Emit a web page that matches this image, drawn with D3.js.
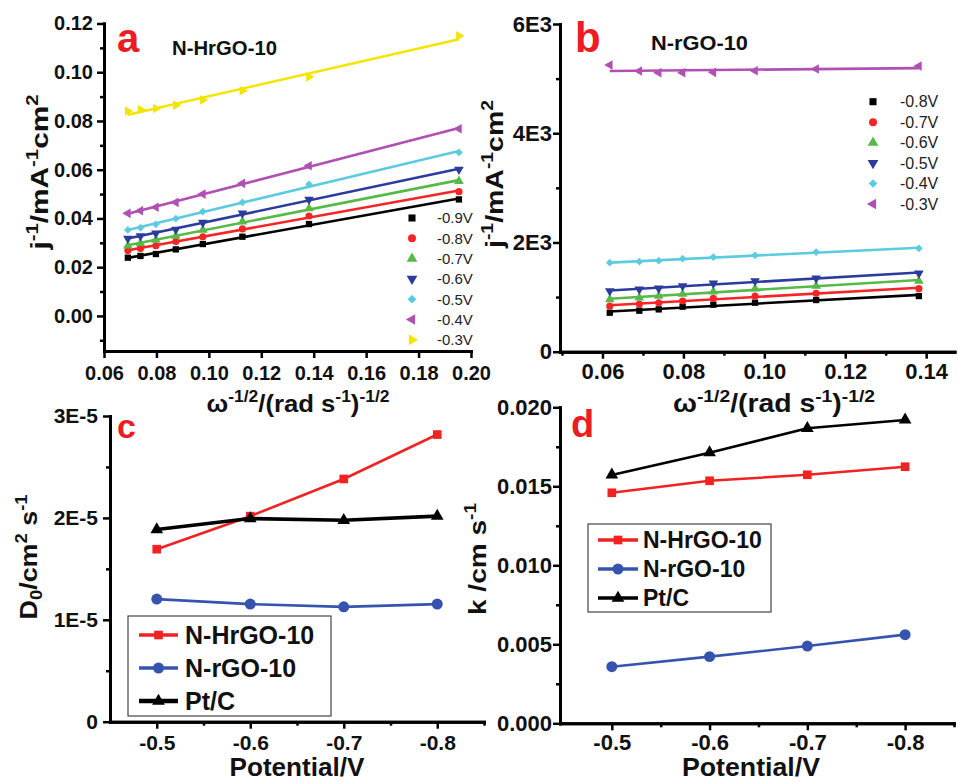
<!DOCTYPE html>
<html><head><meta charset="utf-8">
<script src="https://cdnjs.cloudflare.com/ajax/libs/d3/7.8.5/d3.min.js"></script>
<style>
body{margin:0;background:#fff}
svg{display:block}
text{font-family:"Liberation Sans",Arial,Helvetica,sans-serif}
</style>
</head><body>
<svg id="chart" width="958" height="782"></svg>
<script>
// ---------------- DATA ----------------
// Panel a (N-HrGO-10): omega^-1/2 values and j^-1 series
const aX = [0.0691, 0.0739, 0.0798, 0.0874, 0.0977, 0.1128, 0.1382, 0.1954];
const aLabels = ["-0.9V", "-0.8V", "-0.7V", "-0.6V", "-0.5V", "-0.4V", "-0.3V"];
const aM09 = [0.0239, 0.0246, 0.0254, 0.0273, 0.0295, 0.0325, 0.0377, 0.0478];
const aM08 = [0.0268, 0.0277, 0.0288, 0.0305, 0.0325, 0.0357, 0.0410, 0.0510];
const aM07 = [0.0288, 0.0298, 0.0312, 0.0328, 0.0353, 0.0387, 0.0441, 0.0553];
const aM06 = [0.0318, 0.0328, 0.0339, 0.0355, 0.0383, 0.0421, 0.0478, 0.0601];
const aM05 = [0.0353, 0.0362, 0.0376, 0.0399, 0.0428, 0.0466, 0.0540, 0.0671];
const aM04 = [0.0421, 0.0432, 0.0446, 0.0466, 0.0500, 0.0544, 0.0616, 0.0768];
const aM03 = [0.0841, 0.0847, 0.0851, 0.0865, 0.0886, 0.0924, 0.0981, 0.1149];
const aXTicks = [0.06, 0.08, 0.10, 0.12, 0.14, 0.16, 0.18, 0.20];
const aXTickLabels = ["0.06", "0.08", "0.10", "0.12", "0.14", "0.16", "0.18", "0.20"];
const aYTicks = [0.00, 0.02, 0.04, 0.06, 0.08, 0.10, 0.12];
const aYTickLabels = ["0.00", "0.02", "0.04", "0.06", "0.08", "0.10", "0.12"];
const aYMinor = [-0.01, 0.01, 0.03, 0.05, 0.07, 0.09, 0.11];

// Panel b (N-rGO-10)
const bX = [0.0618, 0.0691, 0.0739, 0.0798, 0.0874, 0.0977, 0.1128, 0.1382];
const bLabels = ["-0.8V", "-0.7V", "-0.6V", "-0.5V", "-0.4V", "-0.3V"];
const bM08 = [714, 751, 775, 824, 861, 897, 946, 1019];
const bM07 = [836, 873, 897, 928, 977, 1019, 1068, 1154];
const bM06 = [958, 989, 1019, 1056, 1099, 1154, 1202, 1294];
const bM05 = [1111, 1141, 1160, 1202, 1251, 1294, 1343, 1434];
const bM04 = [1630, 1648, 1666, 1703, 1733, 1764, 1825, 1892];
const bM03 = [5249, 5139, 5109, 5109, 5115, 5145, 5176, 5231];
const bXTicks = [0.06, 0.08, 0.10, 0.12, 0.14];
const bXTickLabels = ["0.06", "0.08", "0.10", "0.12", "0.14"];
const bXMinor = [0.05, 0.07, 0.09, 0.11, 0.13];
const bYTicks = [0, 2000, 4000, 6000];
const bYTickLabels = ["0", "2E3", "4E3", "6E3"];
const bYMinor = [1000, 3000, 5000];

// Panels c and d: potential
const potential = [-0.5, -0.6, -0.7, -0.8];
const potTickLabels = ["-0.5", "-0.6", "-0.7", "-0.8"];
const potMinor = [-0.55, -0.65, -0.75, -0.85];
const cdNames = ["N-HrGO-10", "N-rGO-10", "Pt/C"];
// Panel c: D0
const cHrGO = [1.693e-5, 2.017e-5, 2.382e-5, 2.818e-5];
const cRGO = [1.203e-5, 1.154e-5, 1.127e-5, 1.154e-5];
const cPtC = [1.886e-5, 1.994e-5, 1.977e-5, 2.017e-5];
const cYTicks = [0, 1e-5, 2e-5, 3e-5];
const cYTickLabels = ["0", "1E-5", "2E-5", "3E-5"];
const cYMinor = [5e-6, 1.5e-5, 2.5e-5];
// Panel d: k
const dHrGO = [0.01459, 0.01535, 0.01573, 0.01624];
const dRGO = [0.00358, 0.00422, 0.00489, 0.00561];
const dPtC = [0.01572, 0.01713, 0.01867, 0.01920];
const dYTicks = [0, 0.005, 0.010, 0.015, 0.020];
const dYTickLabels = ["0.000", "0.005", "0.010", "0.015", "0.020"];
const dYMinor = [0.0025, 0.0075, 0.0125, 0.0175];

// ---------------- STYLE ----------------
const C = {black:"#000000", red:"#f52525", green:"#56b948", blue:"#2b3c9c",
           cyan:"#5ccbe0", magenta:"#b050b2", yellow:"#f2e500",
           lred:"#f02222", lblue:"#3654ae"};
const SYM = {
  square:{t:d3.symbolSquare, r:0, k:1}, circle:{t:d3.symbolCircle, r:0, k:1},
  up:{t:d3.symbolTriangle, r:0, k:1}, down:{t:d3.symbolTriangle, r:180, k:1},
  diamond:{t:d3.symbolSquare, r:45, k:0.75}, left:{t:d3.symbolTriangle, r:-90, k:1},
  right:{t:d3.symbolTriangle, r:90, k:1}
};
const svg = d3.select("#chart");
svg.append("rect").attr("width",958).attr("height",782).attr("fill","#fff");

function marker(g, cx, cy, shape, size, color){
  const s = SYM[shape];
  g.append("path").attr("d", d3.symbol().type(s.t).size(size*s.k)())
    .attr("transform", `translate(${cx},${cy}) rotate(${s.r})`)
    .attr("fill", color);
}

function styleAxis(sel, fontSize){
  sel.select(".domain").attr("stroke","#000").attr("stroke-width",3).attr("stroke-linecap","square");
  sel.selectAll(".tick line").attr("stroke","#000").attr("stroke-width",2.5);
  sel.selectAll(".tick text").attr("font-family",'"Liberation Sans",Arial,sans-serif')
     .attr("font-weight","bold").attr("font-size",fontSize).attr("fill","#111");
}

function drawAxes(x, y, o){
  const g = svg.append("g");
  const y0 = y.range()[0], x0 = x.range()[0];
  if (o.xMinor) g.append("g").attr("transform",`translate(0,${y0})`)
     .call(d3.axisBottom(x).tickValues(o.xMinor).tickSize(4).tickSizeOuter(0).tickFormat(""))
     .call(s=>styleAxis(s,o.xFont));
  if (o.yMinor) g.append("g").attr("transform",`translate(${x0},0)`)
     .call(d3.axisLeft(y).tickValues(o.yMinor).tickSize(4).tickSizeOuter(0).tickFormat(""))
     .call(s=>styleAxis(s,o.yFont));
  g.append("g").attr("transform",`translate(0,${y0})`)
     .call(d3.axisBottom(x).tickValues(o.xTicks).tickSize(7).tickSizeOuter(0)
       .tickPadding(o.xPad).tickFormat((d,i)=>o.xLabels[i]))
     .call(s=>styleAxis(s,o.xFont));
  g.append("g").attr("transform",`translate(${x0},0)`)
     .call(d3.axisLeft(y).tickValues(o.yTicks).tickSize(7).tickSizeOuter(0)
       .tickPadding(o.yPad).tickFormat((d,i)=>o.yLabels[i]))
     .call(s=>styleAxis(s,o.yFont));
  return g;
}

// rich text: parts = [[text, mode]] mode: n normal, sup, sub
function richText(parent, parts, size, len){
  const t = parent.append("text").attr("font-weight","bold").attr("font-size",size)
     .attr("text-anchor","middle").attr("fill","#111");
  if (len) t.attr("textLength", len).attr("lengthAdjust","spacingAndGlyphs");
  let cur = 0;
  parts.forEach(([txt, mode])=>{
    let target = 0, fs = size;
    if (mode==="sup"){ target = -0.42*size; fs = 0.68*size; }
    if (mode==="sub"){ target = 0.22*size; fs = 0.68*size; }
    t.append("tspan").attr("dy", target-cur).attr("font-size", fs).text(txt);
    cur = target;
  });
  return t;
}

function fitLine(xs, ys){
  const mx = d3.mean(xs), my = d3.mean(ys);
  let sxy=0, sxx=0;
  xs.forEach((v,i)=>{ sxy += (v-mx)*(ys[i]-my); sxx += (v-mx)*(v-mx); });
  const k = sxy/sxx, b = my - k*mx;
  return [[xs[0], b+k*xs[0]], [xs[xs.length-1], b+k*xs[xs.length-1]]];
}

const jLabel = [["j","n"],["-1","sup"],["/mA","n"],["-1","sup"],["cm","n"],["2","sup"]];
const omegaLabel = [["\u03C9","n"],["-1/2","sup"],["/(rad s","n"],["-1","sup"],[")","n"],["-1/2","sup"]];

// ---------------- PANEL A ----------------
{
  const x = d3.scaleLinear().domain([0.06, 0.20]).range([104, 471]);
  const y = d3.scaleLinear().domain([-0.0144, 0.12]).range([351, 23.5]);
  const series = [
    {v:aM09, c:C.black, s:"square"}, {v:aM08, c:C.red, s:"circle"},
    {v:aM07, c:C.green, s:"up"}, {v:aM06, c:C.blue, s:"down"},
    {v:aM05, c:C.cyan, s:"diamond"}, {v:aM04, c:C.magenta, s:"left"},
    {v:aM03, c:C.yellow, s:"right"}];
  const g = svg.append("g");
  series.forEach(se=>{
    const f = fitLine(aX, se.v);
    g.append("path").attr("d", d3.line().x(d=>x(d[0])).y(d=>y(d[1]))(f))
      .attr("stroke", se.c).attr("stroke-width", 2.6).attr("fill","none");
    aX.forEach((xv,i)=>marker(g, x(xv), y(se.v[i]), se.s, 40, se.c));
  });
  drawAxes(x, y, {xTicks:aXTicks, xLabels:aXTickLabels, yTicks:aYTicks, yLabels:aYTickLabels,
    yMinor:aYMinor, xFont:20, yFont:20, xPad:8, yPad:4});
  // legend
  const lg = svg.append("g");
  aLabels.forEach((lab,i)=>{
    const yy = 218 + i*20.3;
    marker(lg, 412, yy, series[i].s, 50, series[i].c);
    lg.append("text").attr("x",437).attr("y",yy).attr("dy","0.36em")
      .attr("font-size",15).attr("fill","#222").text(lab);
  });
  svg.append("text").attr("x",117).attr("y",52).attr("font-size",40).attr("font-weight","bold")
    .attr("fill","#ec1c24").text("a");
  svg.append("text").attr("x",172).attr("y",55).attr("font-size",20).attr("font-weight","bold")
    .attr("fill","#111").attr("textLength",105).attr("lengthAdjust","spacingAndGlyphs").text("N-HrGO-10");
  richText(svg.append("g").attr("transform","translate(48,172) rotate(-90)"), jLabel, 24, 155);
  richText(svg.append("g").attr("transform","translate(298,412)"), omegaLabel, 24, 183);
}

// ---------------- PANEL B ----------------
{
  const x = d3.scaleLinear().domain([0.0495, 0.147]).range([560, 954.5]);
  const y = d3.scaleLinear().domain([0, 6000]).range([351.7, 24]);
  const series = [
    {v:bM08, c:C.black, s:"square"}, {v:bM07, c:C.red, s:"circle"},
    {v:bM06, c:C.green, s:"up"}, {v:bM05, c:C.blue, s:"down"},
    {v:bM04, c:C.cyan, s:"diamond"}, {v:bM03, c:C.magenta, s:"left"}];
  const g = svg.append("g");
  series.forEach(se=>{
    const f = fitLine(bX, se.v);
    g.append("path").attr("d", d3.line().x(d=>x(d[0])).y(d=>y(d[1]))(f))
      .attr("stroke", se.c).attr("stroke-width", 2.6).attr("fill","none");
    bX.forEach((xv,i)=>marker(g, x(xv), y(se.v[i]), se.s, 40, se.c));
  });
  drawAxes(x, y, {xTicks:bXTicks, xLabels:bXTickLabels, xMinor:bXMinor, yTicks:bYTicks,
    yLabels:bYTickLabels, yMinor:bYMinor, xFont:22, yFont:22, xPad:5, yPad:1});
  const lg = svg.append("g");
  bLabels.forEach((lab,i)=>{
    const yy = 101.7 + i*20.46;
    marker(lg, 873, yy, series[i].s, 50, series[i].c);
    lg.append("text").attr("x",900).attr("y",yy).attr("dy","0.36em")
      .attr("font-size",16).attr("fill","#222").text(lab);
  });
  svg.append("text").attr("x",575).attr("y",52).attr("font-size",42).attr("font-weight","bold")
    .attr("fill","#ec1c24").text("b");
  svg.append("text").attr("x",651).attr("y",50).attr("font-size",21).attr("font-weight","bold")
    .attr("fill","#111").attr("textLength",97).attr("lengthAdjust","spacingAndGlyphs").text("N-rGO-10");
  richText(svg.append("g").attr("transform","translate(503,174) rotate(-90)"), jLabel, 24, 148);
  richText(svg.append("g").attr("transform","translate(774,412)"), omegaLabel, 25, 202);
}

// ---------------- PANELS C, D ----------------
function drawCD(o){
  const x = d3.scaleLinear().domain(o.xDom).range(o.xRange);
  const y = d3.scaleLinear().domain(o.yDom).range(o.yRange);
  const series = [
    {v:o.s[0], c:C.lred, s:"square", w:2.6, ms:75},
    {v:o.s[1], c:C.lblue, s:"circle", w:2.6, ms:95},
    {v:o.s[2], c:C.black, s:"up", w:o.blackW, ms:70}];
  const g = svg.append("g");
  series.forEach(se=>{
    g.append("path").attr("d", d3.line().x((d,i)=>x(potential[i])).y(d=>y(d))(se.v))
      .attr("stroke", se.c).attr("stroke-width", se.w).attr("fill","none");
    potential.forEach((p,i)=>marker(g, x(p), y(se.v[i]), se.s, se.ms, se.c));
  });
  drawAxes(x, y, {xTicks:potential, xLabels:potTickLabels, xMinor:potMinor, yTicks:o.yTicks,
    yLabels:o.yLabels, yMinor:o.yMinor, xFont:o.xFont, yFont:o.yFont, xPad:o.xPad, yPad:o.yPad});
  // legend
  const L = o.leg;
  const lg = svg.append("g");
  lg.append("rect").attr("x",L.x).attr("y",L.y).attr("width",L.w).attr("height",L.h)
    .attr("fill","#fff").attr("stroke","#444").attr("stroke-width",1.2);
  cdNames.forEach((nm,i)=>{
    const yy = L.r0 + i*L.dr;
    lg.append("line").attr("x1",L.l1).attr("x2",L.l2).attr("y1",yy).attr("y2",yy)
      .attr("stroke",series[i].c).attr("stroke-width",series[i].w+0.8);
    marker(lg, (L.l1+L.l2)/2, yy, series[i].s, series[i].ms, series[i].c);
    lg.append("text").attr("x",L.tx).attr("y",yy).attr("dy","0.36em").attr("font-size",L.fs)
      .attr("font-weight","bold").attr("fill","#111").text(nm);
  });
}

drawCD({xDom:[-0.45,-0.85], xRange:[110,484], yDom:[0,3e-5], yRange:[721.7,416],
  s:[cHrGO,cRGO,cPtC], blackW:3.6, yTicks:cYTicks, yLabels:cYTickLabels, yMinor:cYMinor,
  xFont:21, yFont:21, xPad:6, yPad:5,
  leg:{x:128,y:616,w:203,h:100,r0:635,dr:33,l1:139,l2:178,tx:185,fs:25}});
svg.append("text").attr("x",117).attr("y",438).attr("font-size",34).attr("font-weight","bold")
  .attr("fill","#ec1c24").text("c");
richText(svg.append("g").attr("transform","translate(37,557) rotate(-90)"),
  [["D","n"],["0","sub"],["/cm","n"],["2","sup"],[" s","n"],["-1","sup"]], 24, 125);
richText(svg.append("g").attr("transform","translate(297,776)"), [["Potential/V","n"]], 25, 135);

drawCD({xDom:[-0.447,-0.85], xRange:[560,954], yDom:[0,0.02], yRange:[723.3,407.3],
  s:[dHrGO,dRGO,dPtC], blackW:2.6, yTicks:dYTicks, yLabels:dYTickLabels, yMinor:dYMinor,
  xFont:22, yFont:22, xPad:4, yPad:1,
  leg:{x:588,y:524,w:183,h:88,r0:540,dr:29,l1:598,l2:638,tx:643,fs:23}});
svg.append("text").attr("x",571).attr("y",437).attr("font-size",38).attr("font-weight","bold")
  .attr("fill","#ec1c24").text("d");
richText(svg.append("g").attr("transform","translate(486,559) rotate(-90)"),
  [["k /cm s","n"],["-1","sup"]], 24, 112);
richText(svg.append("g").attr("transform","translate(751,776)"), [["Potential/V","n"]], 25, 138);
</script>
</body></html>
